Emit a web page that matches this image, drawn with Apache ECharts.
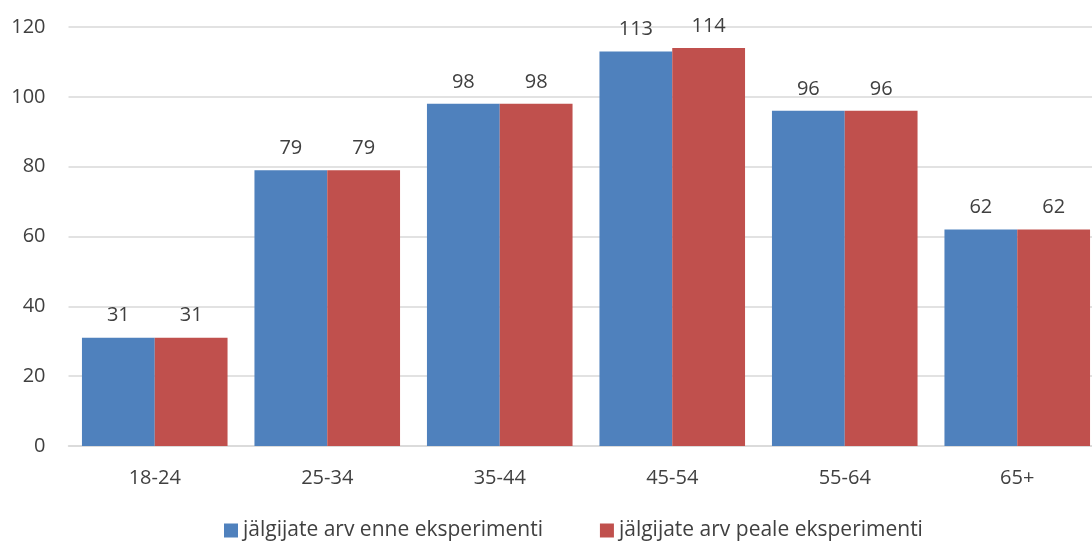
<!DOCTYPE html>
<html>
<head>
<meta charset="utf-8">
<script src="https://cdn.jsdelivr.net/npm/echarts@6/dist/echarts.min.js"></script>
<style>
  html, body { margin: 0; padding: 0; background: #fff; overflow: hidden; }
  #chart { width: 1092px; height: 541px; }
</style>
</head>
<body>
<div id="chart"></div>
<script>
// Age groups and follower counts before / after the experiment
const categories = ['18-24', '25-34', '35-44', '45-54', '55-64', '65+'];
const seriesNames = ['jälgijate arv enne eksperimenti', 'jälgijate arv peale eksperimenti'];
const before = [31, 79, 98, 113, 96, 62];
const after = [31, 79, 98, 114, 96, 62];
const yTicks = { min: 0, max: 120, interval: 20 };

const font = '"Open Sans", "Liberation Sans", sans-serif';
const textColor = '#404040';

const chart = echarts.init(document.getElementById('chart'), null, { renderer: 'canvas' });

function barSeries(name, data, color) {
  return {
    name: name,
    type: 'bar',
    data: data,
    barGap: '0%',
    barCategoryGap: '15.6%',
    itemStyle: { color: color },
    label: {
      show: true,
      position: 'top',
      distance: 12,
      color: textColor,
      fontFamily: font,
      fontSize: 20
    }
  };
}

chart.setOption({
  animation: false,
  textStyle: { fontFamily: font },
  // the plot area runs slightly past the right edge of the canvas
  grid: {
    left: 68.5, width: 1035, top: 27, height: 419,
    containLabel: false, outerBoundsMode: 'none'
  },
  legend: {
    top: 515,
    left: 219,
    itemWidth: 14,
    itemHeight: 14,
    itemGap: 57,
    icon: 'rect',
    textStyle: { color: textColor, fontFamily: font, fontSize: 21 },
    data: seriesNames
  },
  xAxis: {
    type: 'category',
    data: categories,
    axisLine: { lineStyle: { color: '#d9d9d9', width: 1.5 } },
    axisTick: { show: false },
    axisLabel: { color: textColor, fontFamily: font, fontSize: 20, margin: 22 }
  },
  yAxis: {
    type: 'value',
    min: yTicks.min,
    max: yTicks.max,
    interval: yTicks.interval,
    axisLine: { show: false },
    axisTick: { show: false },
    splitLine: { lineStyle: { color: '#d9d9d9', width: 1.5 } },
    axisLabel: { color: textColor, fontFamily: font, fontSize: 20, margin: 23 }
  },
  series: [
    barSeries(seriesNames[0], before, '#4F81BD'),
    barSeries(seriesNames[1], after, '#C0504D')
  ]
});
</script>
</body>
</html>
